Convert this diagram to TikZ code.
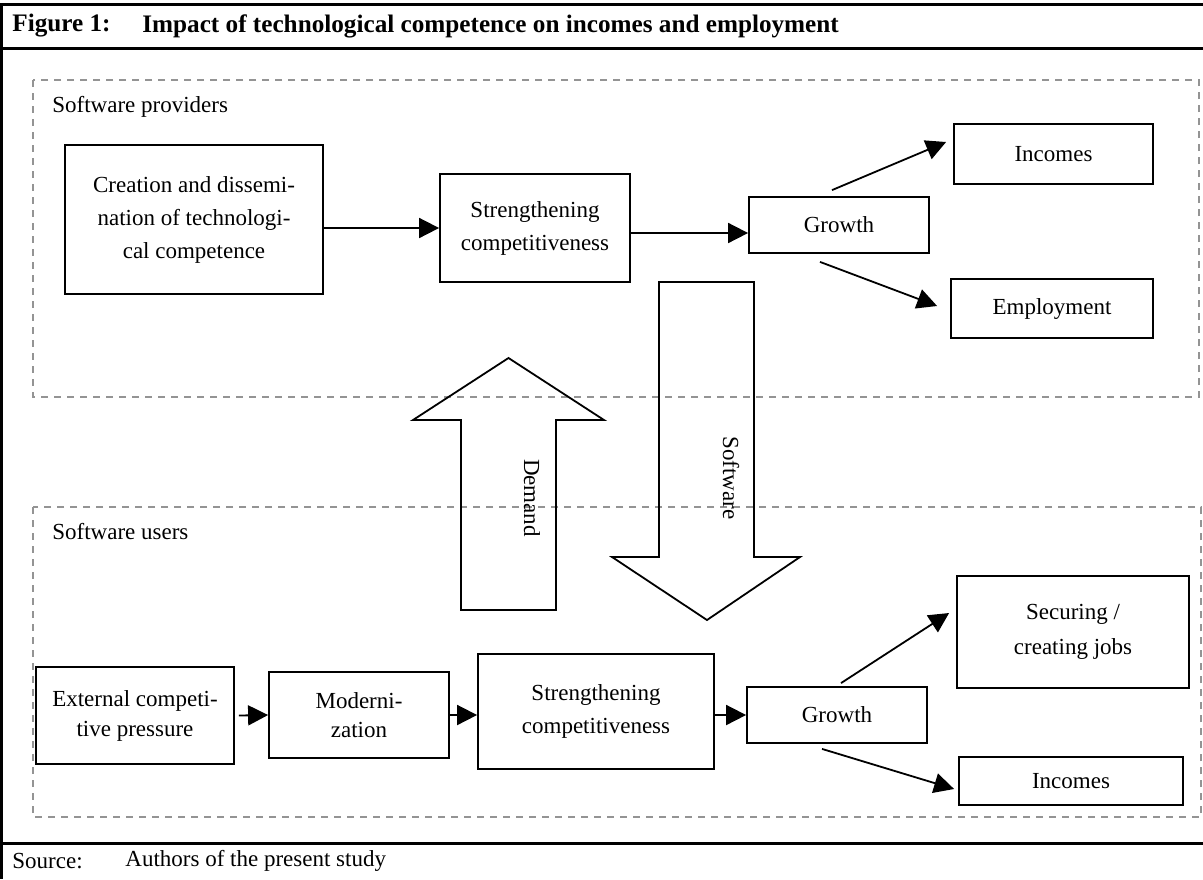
\documentclass[tikz,border=0pt]{standalone}
\usepackage{fontspec}
\setmainfont{Liberation Serif}
\usetikzlibrary{arrows.meta,calc}
\begin{document}
\begin{tikzpicture}[x=0.5pt,y=-0.5pt,
  every node/.style={font=\fontsize{11.5pt}{16.5pt}\selectfont},
  box/.style={draw=black,line width=0.9pt,align=center,inner sep=0pt},
  zone/.style={draw=black!42,line width=0.8pt,dash pattern=on 3.5pt off 3pt},
  frame/.style={line width=1.5pt},
  lbl/.style={anchor=west,inner sep=0pt},
  ttl/.style={lbl,font=\fontsize{12.6pt}{14pt}\selectfont\bfseries},
  arr/.style={line width=0.9pt,-{Triangle[length=10pt,width=10pt]}},
  bigarrow/.style={line width=0.9pt,line join=miter}]
\useasboundingbox (0,0) rectangle (1203,879);
% outer frame
\draw[frame] (1.5,3.5) -- (1.5,879);
\draw[frame] (0,4) -- (1203,4);
\draw[frame] (0,48) -- (1203,48);
\draw[frame] (0,843) -- (1203,843);
\node[ttl] (fig) at (12,26) {Figure 1:};
\node[ttl] (title) at (142,26) {Impact of technological competence on incomes and employment};
\node[lbl] (src) at (12,861) {Source:};
\node[lbl] (srct) at (125,861) {Authors of the present study};
% zones
\draw[zone] (33,80) rectangle (1199,397);
\draw[zone] (33,507) rectangle (1201,817);
\node[lbl] (prov) at (52,107) {Software providers};
\node[lbl] (users) at (52,532) {Software users};
% upper boxes
\node[box,minimum width=129pt,minimum height=74.5pt] (cre) at (194,219.5) {Creation and dissemi-\\nation of technologi-\\cal competence};
\node[box,minimum width=95pt,minimum height=54pt] (str1) at (535,228) {Strengthening\\competitiveness};
\node[box,minimum width=90pt,minimum height=28pt] (g1) at (839,225) {Growth};
\node[box,minimum width=99.5pt,minimum height=30pt] (inc1) at (1053.5,154) {Incomes};
\node[box,minimum width=101pt,minimum height=29.5pt] (emp) at (1052,308.5) {Employment};
% lower boxes
\node[box,minimum width=99pt,minimum height=48.5pt,font=\fontsize{11.5pt}{15pt}\selectfont] (ext) at (135,715.5) {External competi-\\tive pressure};
\node[box,minimum width=90pt,minimum height=43pt,font=\fontsize{11.5pt}{14.5pt}\selectfont] (mod) at (359,715) {Moderni-\\zation};
\node[box,minimum width=118pt,minimum height=57.5pt] (str2) at (596,711.5) {Strengthening\\competitiveness};
\node[box,minimum width=90pt,minimum height=28pt] (g2) at (837,715) {Growth};
\node[box,minimum width=116pt,minimum height=56pt,font=\fontsize{11.5pt}{17.5pt}\selectfont] (sec) at (1073,632) {Securing /\\creating jobs};
\node[box,minimum width=112pt,minimum height=24pt] (inc2) at (1071,781) {Incomes};
% upper connectors
\draw[arr] (cre.east |- str1.west) -- (str1.west);
\draw[arr] ([yshift=-2.5pt]str1.east) -- ([yshift=-4pt]g1.west);
\draw[arr] ([xshift=-3.5pt,yshift=3pt]g1.north) -- ([xshift=-3.5pt,yshift=6pt]inc1.west);
\draw[arr] ([xshift=-9.5pt,yshift=-4pt]g1.south) -- ([xshift=-6.5pt,yshift=1.25pt]emp.west);
% lower connectors
\draw[arr] ([xshift=2pt]ext.east) -- (mod.west);
\draw[arr] (mod.east) -- (str2.west |- mod.east);
\draw[arr] (str2.east |- g2.west) -- (g2.west);
\draw[arr] ([xshift=2pt,yshift=1.5pt]g2.north) -- ([xshift=-3.5pt,yshift=9.5pt]sec.west);
\draw[arr] ([xshift=-7.5pt,yshift=-2.5pt]g2.south) -- ([xshift=-2pt,yshift=-4pt]inc2.west);
% big arrows
\draw[bigarrow] (461,610) -- (556,610) -- (556,420) -- (604,420) -- (508.5,358) -- (413,420) -- (461,420) -- cycle;
\draw[bigarrow] (659,282) -- (754,282) -- (754,557) -- (800,557) -- (707,620) -- (612,557) -- (659,557) -- cycle;
\node[rotate=-90] (dem) at (532,498) {Demand};
\node[rotate=-90] (soft) at (731,478) {Software};
\end{tikzpicture}
\end{document}
